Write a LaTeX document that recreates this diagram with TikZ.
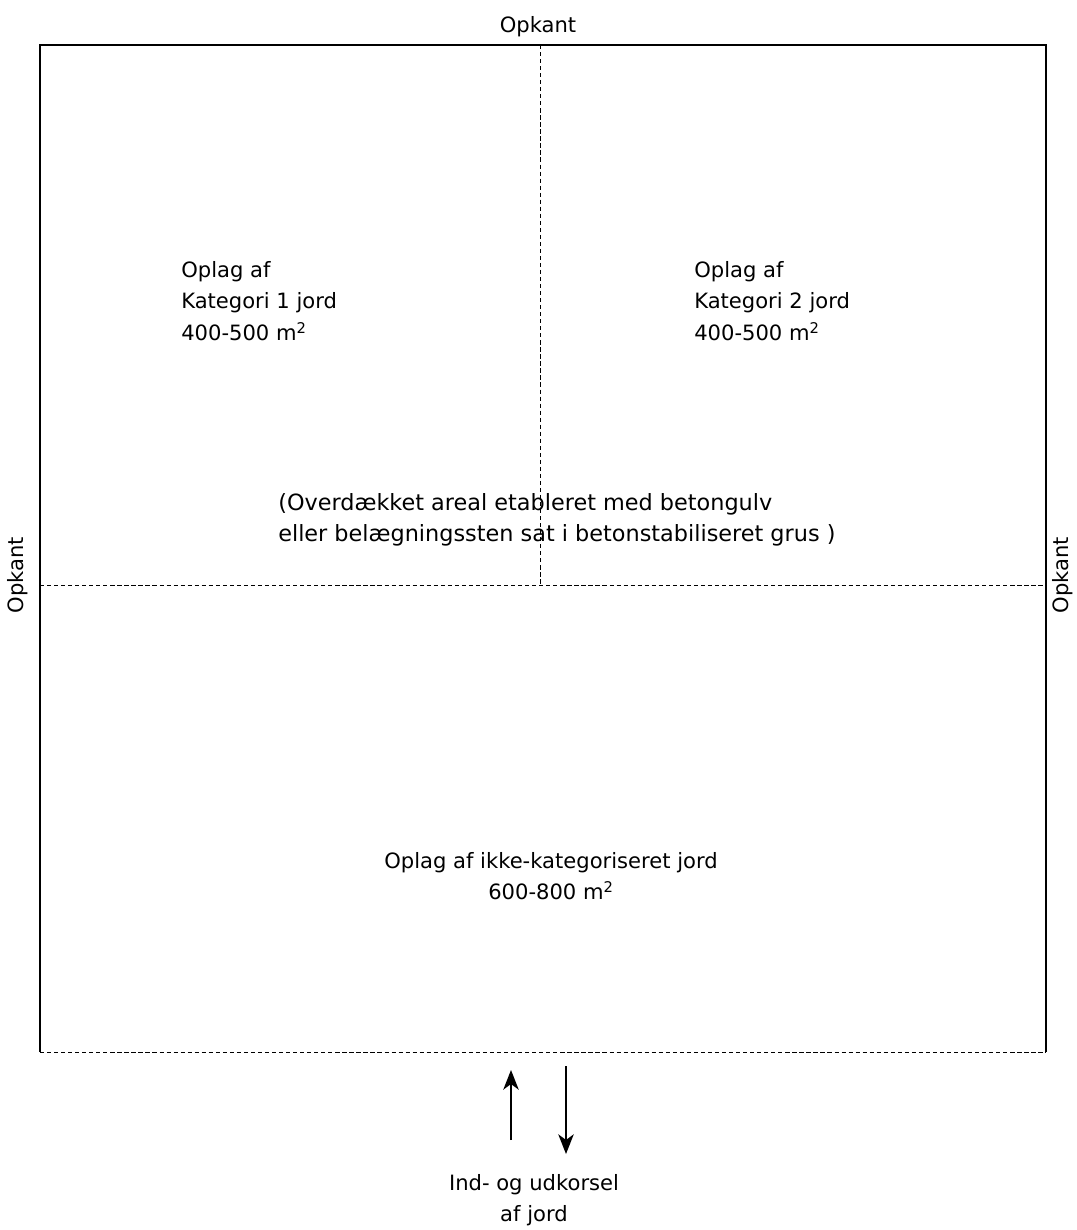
\documentclass[tikz,border=0pt]{standalone}
\usepackage{fontspec}
\setmainfont{DejaVu Sans}
\usepackage{tikz}
\usetikzlibrary{arrows.meta}
\newcommand{\kvm}{ m\textsuperscript{2}}

\begin{document}
\begin{tikzpicture}[x=0.025cm,y=-0.025cm,>={Stealth[length=14pt,width=11pt,inset=4pt]},font=\fontsize{15}{22.5}\selectfont]
\tikzset{wall/.style={line width=2pt},
  kant/.style={densely dashed,line width=0.7pt},
  lbl/.style={align=left,anchor=west,inner sep=0pt}}
\useasboundingbox (0,0) rectangle (1077,1230);
\draw[wall] (40,1052)--(40,45)--(1046,45)--(1046,1052);
\draw[kant] (40,1052)--(1046,1052);
\draw[kant] (40,585)--(1046,585);
\draw[kant] (540,45)--(540,585);
\node (top) at (538,27) {Opkant};
\node[rotate=90] (venstre) at (18,575) {Opkant};
\node[rotate=90] (hoejre) at (1063,575) {Opkant};
\node[lbl] (kat1) at (181,301) {Oplag af\\Kategori 1 jord\\400-500\kvm};
\node[lbl] (kat2) at (694,301) {Oplag af\\Kategori 2 jord\\400-500\kvm};
\node[lbl,font=\fontsize{15.9}{22.5}\selectfont] (tag) at (278,520) {(Overdækket areal etableret med betongulv\\eller belægningssten sat i betonstabiliseret grus )};
\node[align=center] (ikke) at (551,876) {Oplag af ikke-kategoriseret jord\\600-800\kvm};
\node[align=center] (ind) at (534,1200) {Ind- og udkorsel\\af jord};
\coordinate (a1) at (511,1140);
\coordinate (a2) at (511,1070);
\coordinate (b1) at (566,1066);
\coordinate (b2) at (566,1154);
\draw[->,line width=1pt] (a1)--(a2);
\draw[->,line width=1pt] (b1)--(b2);
\end{tikzpicture}
\end{document}
